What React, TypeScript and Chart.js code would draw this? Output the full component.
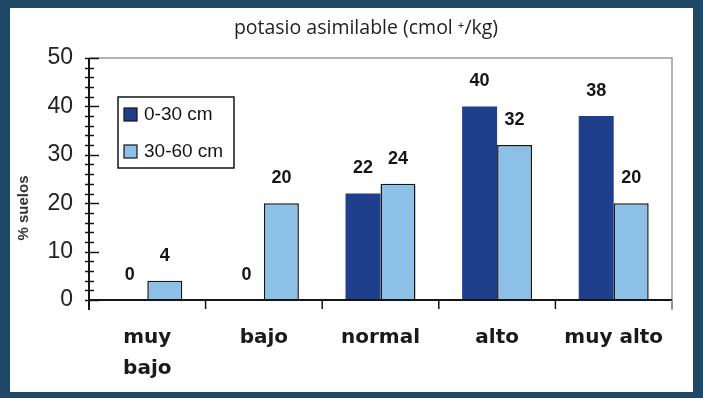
import React, { useEffect, useRef } from 'react';
import { Chart, registerables } from 'chart.js';

Chart.register(...registerables);

// Soil potassium classes and share of soils per sampling depth
const categories: (string | string[])[] = [['muy', 'bajo'], 'bajo', 'normal', 'alto', 'muy alto'];
const seriesNames = ['0-30 cm', '30-60 cm'];
const topsoil = [0, 0, 22, 40, 38];
const subsoil = [4, 20, 24, 32, 20];
const yMin = 0;
const yMax = 50;
const yStep = 10;
const yMinorStep = 2;
const titleText = 'potasio asimilable (cmol \u207A/kg)';
const yTitle = '% suelos';

const DARK = '#1f3e8c';
const LIGHT = '#8cc0e6';
const INK = '#151515';

const decorations = {
  id: 'decorations',
  afterDatasetsDraw(chart: any) {
    const { ctx, chartArea } = chart;
    const xs = chart.scales.x;
    const ys = chart.scales.y;
    const left = chartArea.left;
    const right = chartArea.right;
    const top = ys.getPixelForValue(yMax);
    const bottom = ys.getPixelForValue(yMin);
    ctx.save();

    // frame lines of the plot area
    ctx.strokeStyle = '#9a9a9a';
    ctx.lineWidth = 1.5;
    ctx.beginPath();
    ctx.moveTo(left, top);
    ctx.lineTo(right, top);
    ctx.lineTo(right, bottom + 10);
    ctx.stroke();

    // value axis with major and minor ticks
    ctx.strokeStyle = INK;
    ctx.lineWidth = 2;
    ctx.beginPath();
    ctx.moveTo(left, top);
    ctx.lineTo(left, bottom + 10);
    ctx.stroke();
    ctx.lineWidth = 1.5;
    for (let v = yMin; v <= yMax; v += yMinorStep) {
      const y = Math.round(ys.getPixelForValue(v)) + 0.5;
      const major = v % yStep === 0;
      ctx.beginPath();
      ctx.moveTo(left - 4, y);
      ctx.lineTo(left + (major ? 10 : 5), y);
      ctx.stroke();
    }

    // category axis
    ctx.lineWidth = 2;
    ctx.beginPath();
    ctx.moveTo(left, bottom);
    ctx.lineTo(right, bottom);
    ctx.stroke();
    const n = categories.length;
    ctx.lineWidth = 1.5;
    for (let i = 1; i <= n; i++) {
      const x = xs.left + (i * xs.width) / n;
      ctx.strokeStyle = i === n ? '#8a8a8a' : INK;
      ctx.beginPath();
      ctx.moveTo(x, bottom);
      ctx.lineTo(x, bottom + 9);
      ctx.stroke();
    }

    // value labels above the bars
    ctx.fillStyle = INK;
    ctx.font = 'bold 18px "Liberation Sans", Arial, sans-serif';
    ctx.textAlign = 'center';
    ctx.textBaseline = 'bottom';
    chart.data.datasets.forEach((ds: any, di: number) => {
      const meta = chart.getDatasetMeta(di);
      meta.data.forEach((el: any, i: number) => {
        ctx.fillText(String(ds.data[i]), el.x, el.y - 16);
      });
    });

    // title
    ctx.fillStyle = '#222';
    ctx.font = '19.5px "Open Sans", "DejaVu Sans", sans-serif';
    ctx.textBaseline = 'middle';
    ctx.fillText(titleText, 356, 20);

    // rotated axis title
    ctx.save();
    ctx.translate(14, 200);
    ctx.rotate(-Math.PI / 2);
    ctx.font = 'bold 15px "Liberation Sans", Arial, sans-serif';
    ctx.fillStyle = '#333';
    ctx.fillText(yTitle, 0, 0);
    ctx.restore();

    // legend box inside the plot
    const bx = 108;
    const by = 89;
    ctx.fillStyle = '#ffffff';
    ctx.fillRect(bx, by, 116, 71);
    ctx.strokeStyle = INK;
    ctx.lineWidth = 1.5;
    ctx.strokeRect(bx, by, 116, 71);
    const swatches = [DARK, LIGHT];
    ctx.font = '19px "Liberation Sans", Arial, sans-serif';
    ctx.textAlign = 'left';
    ctx.textBaseline = 'middle';
    seriesNames.forEach((name, i) => {
      const cy = by + 17 + i * 37;
      ctx.fillStyle = swatches[i];
      ctx.fillRect(bx + 6, cy - 6, 13, 13);
      ctx.strokeStyle = INK;
      ctx.lineWidth = 1.2;
      ctx.strokeRect(bx + 6, cy - 6, 13, 13);
      ctx.fillStyle = INK;
      ctx.fillText(name, bx + 26, cy + 1);
    });

    ctx.restore();
  },
};

export default function App() {
  const ref = useRef<HTMLCanvasElement | null>(null);

  useEffect(() => {
    if (!ref.current) return;
    const chart = new Chart(ref.current, {
      type: 'bar',
      data: {
        labels: categories,
        datasets: [
          {
            label: seriesNames[0],
            data: topsoil,
            backgroundColor: DARK,
            borderWidth: 0,
            barPercentage: 1,
            categoryPercentage: 0.6,
          },
          {
            label: seriesNames[1],
            data: subsoil,
            backgroundColor: LIGHT,
            borderColor: INK,
            borderWidth: { top: 1.5, left: 1.5, right: 1.5, bottom: 0 },
            borderSkipped: 'bottom',
            barPercentage: 1,
            categoryPercentage: 0.6,
          },
        ],
      },
      options: {
        animation: false,
        responsive: false,
        maintainAspectRatio: false,
        layout: { padding: { top: 50, right: 21, bottom: 0, left: 0 } },
        plugins: {
          legend: { display: false },
          tooltip: { enabled: false },
          title: { display: false },
        },
        scales: {
          x: {
            grid: { display: false, drawTicks: false },
            border: { display: false },
            ticks: {
              color: '#1a1a1a',
              font: { family: '"DejaVu Sans", sans-serif', size: 20, weight: 'bold', lineHeight: 1.55 },
              padding: 22,
              maxRotation: 0,
              autoSkip: false,
            },
            afterFit: (scale: any) => {
              scale.height = 92;
            },
          },
          y: {
            min: yMin,
            max: yMax,
            grid: { display: false, drawTicks: false },
            border: { display: false },
            ticks: {
              stepSize: yStep,
              color: '#222',
              font: { family: '"Liberation Sans", Arial, sans-serif', size: 23 },
              padding: 16,
            },
            afterFit: (scale: any) => {
              scale.width = 79;
            },
          },
        },
      },
      plugins: [decorations],
    });
    return () => chart.destroy();
  }, []);

  return (
    <div
      style={{
        position: 'fixed',
        left: 0,
        top: 0,
        width: 703,
        height: 398,
        background: '#1f4866',
      }}
    >
      <div
        style={{
          position: 'absolute',
          left: 10,
          top: 8,
          width: 683,
          height: 384,
          background: '#ffffff',
        }}
      >
        <canvas ref={ref} width={683} height={384} style={{ display: 'block', width: 683, height: 384 }} />
      </div>
    </div>
  );
}
